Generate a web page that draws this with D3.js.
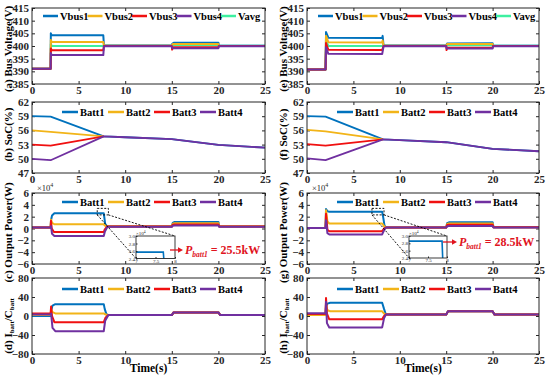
<!DOCTYPE html>
<html><head><meta charset="utf-8">
<script src="https://cdn.jsdelivr.net/npm/d3@7"></script>
<style>body{margin:0;background:#fff}svg{display:block}</style>
</head><body>
<svg id="c" width="550" height="378"></svg>
<script>
// ---------- data ----------
const timeTicks = [0,5,10,15,20,25];
const vTicks = [385,390,395,400,405,410,415];
const socTicks = [47,50,53,56,59,62];
const powTicks = [-6,-4,-2,0,2,4,6];
const iTicks = [-80,-40,0,40,80];
const vLabels = ["Vbus1","Vbus2","Vbus3","Vbus4","Vavg"];
const bLabels = ["Batt1","Batt2","Batt3","Batt4"];
const colors5 = ["#0072BD","#F2B418","#F01010","#7030A0","#3DF0A0"];

// (a) bus voltage, case 1
const a_v1 = [[0,391],[2,391],[2.02,405],[2.12,404.2],[7.65,404.2],[7.72,400.3],[15,400.2],[15.05,400.9],[15.2,401.3],[20,401.3],[20.05,400.1],[25,400.1]];
const a_v2 = [[0,391],[2,391],[2.02,402.4],[2.12,401.6],[7.65,401.6],[7.72,400.2],[15,400.1],[15.1,400.8],[20,400.8],[20.05,400],[25,400]];
const a_v3 = [[0,391],[2,391],[2.02,399],[2.12,398.3],[7.65,398.3],[7.72,400],[15,400],[15.03,398.6],[15.12,399.5],[20,399.5],[20.05,400],[25,400]];
const a_v4 = [[0,391],[2,391],[2.02,397.2],[2.12,396.4],[7.65,396.4],[7.72,399.9],[15,399.9],[15.05,399.1],[20,399.1],[20.05,399.9],[25,399.9]];
const a_va = [[0,391],[2,391],[2.02,400.8],[2.12,400],[7.65,400],[7.72,400.1],[15,400.1],[15.1,400.3],[20,400.3],[20.05,400.1],[25,400.1]];
// (e) bus voltage, case 2
const e_v1 = [[0,390.7],[2,390.7],[2.05,405.5],[2.3,403.3],[8.1,403.2],[8.15,404],[8.25,400.2],[15,400.2],[15.1,401],[20,401.1],[20.05,400.1],[25,400.1]];
const e_v2 = [[0,390.7],[2,390.7],[2.05,404],[2.3,401.5],[8.1,401.4],[8.15,402.2],[8.25,400.1],[15,400.1],[15.1,400.8],[20,400.8],[20.05,400],[25,400]];
const e_v3 = [[0,390.7],[2,390.7],[2.05,401.2],[2.3,398.5],[8.1,398.4],[8.25,400],[15,400],[15.04,398.4],[15.12,399.3],[20,399.3],[20.05,400],[25,400]];
const e_v4 = [[0,390.7],[2,390.7],[2.05,399.5],[2.3,396.9],[8.1,396.8],[8.25,399.9],[15,399.9],[15.05,399],[20,399],[20.05,399.9],[25,399.9]];
const e_va = [[0,390.7],[2,390.7],[2.05,402.2],[2.3,400],[8.1,400],[8.25,400.1],[15,400.1],[15.1,400.3],[20,400.3],[20.05,400.1],[25,400.1]];

// (b) SoC, case 1
const b_s1 = [[0,59],[2,58.9],[7.7,54.75],[10,54.55],[15,54.15],[20,52.95],[25,52.35]];
const b_s2 = [[0,56],[2,55.7],[7.7,54.75]];
const b_s3 = [[0,53],[2,52.8],[7.7,54.75]];
const b_s4 = [[0,50],[2,49.7],[7.7,54.75],[10,54.55],[15,54.15],[20,52.95],[25,52.35]];
// (f) SoC, case 2
const f_s1 = [[0,59],[2,58.9],[8.2,54.1],[10,53.95],[15,53.5],[20,52.1],[25,51.6]];
const f_s2 = [[0,56.1],[2,55.8],[8.2,54.1]];
const f_s3 = [[0,53.1],[2,52.8],[8.2,54.1]];
const f_s4 = [[0,50.1],[2,49.7],[8.2,54.1],[10,53.95],[15,53.5],[20,52.1],[25,51.6]];

// (c) output power (x1e4 W), case 1
const c_p1 = [[0,0.15],[2,0.15],[2.04,1.4],[2.15,2.2],[2.4,2.57],[7.7,2.57],[7.75,2.0],[7.85,0.8],[8.05,0.35],[15,0.35],[15.1,0.95],[15.3,1.1],[20,1.1],[20.1,0.35],[25,0.35]];
const c_p2 = [[0,0.15],[2,0.15],[2.04,1.5],[2.15,0.95],[2.4,0.72],[7.7,0.72],[7.8,0.5],[8.05,0.38],[15,0.38],[15.1,0.8],[15.3,0.88],[20,0.88],[20.1,0.38],[25,0.38]];
const c_p3 = [[0,0.15],[2,0.15],[2.04,1.3],[2.12,0],[2.35,-0.6],[7.7,-0.6],[7.8,-0.2],[8.05,0.32],[15,0.32],[15.1,0.62],[15.3,0.68],[20,0.68],[20.1,0.32],[25,0.32]];
const c_p4 = [[0,0.15],[2,0.15],[2.04,0.4],[2.15,-0.9],[2.4,-1.25],[7.7,-1.25],[7.82,-0.5],[8.1,0.28],[15,0.28],[15.1,0.45],[15.3,0.5],[20,0.5],[20.1,0.28],[25,0.28]];
const c_inset = [[7,2.57],[7.7,2.57],[7.72,2.3]];
// (g) output power (x1e4 W), case 2
const g_p1 = [[0,0.1],[2,0.1],[2.05,3.3],[2.2,2.9],[2.4,2.85],[8.1,2.85],[8.2,2.0],[8.35,0.5],[8.5,0.18],[15,0.18],[15.1,0.9],[15.3,1.05],[20,1.05],[20.1,0.22],[25,0.22]];
const g_p2 = [[0,0.1],[2,0.1],[2.05,3.1],[2.2,1.2],[2.4,0.85],[8.1,0.85],[8.3,0.4],[8.5,0.18],[15,0.18],[15.1,0.78],[15.3,0.85],[20,0.85],[20.1,0.22],[25,0.22]];
const g_p3 = [[0,0.1],[2,0.1],[2.05,2.5],[2.2,-0.2],[2.4,-0.45],[8.1,-0.45],[8.3,0],[8.5,0.16],[15,0.16],[15.1,0.6],[15.3,0.65],[20,0.65],[20.1,0.2],[25,0.2]];
const g_p4 = [[0,0.1],[2,0.1],[2.05,1.4],[2.2,-0.8],[2.4,-1.0],[8.1,-1.0],[8.3,-0.3],[8.5,0.15],[15,0.15],[15.1,0.38],[15.3,0.42],[20,0.42],[20.1,0.18],[25,0.18]];
const g_inset = [[7,2.86],[7.87,2.86],[7.89,2.3]];

// (d) Ibatt/Cbatt, case 1
const d_i1 = [[0,0],[2,0],[2.05,10],[2.2,22],[2.5,25],[7.7,25],[7.8,15],[8.0,3],[8.2,2],[15,2],[15.2,7.5],[20,7.5],[20.2,2],[25,2]];
const d_i2 = [[0,2],[2,2],[2.05,14],[2.2,8],[2.5,5.5],[7.7,5.5],[7.9,3],[8.2,2],[15,2],[15.2,7.5],[20,7.5],[20.2,2],[25,2]];
const d_i3 = [[0,5.5],[2,5.5],[2.05,20],[2.15,0],[2.4,-13],[7.7,-13],[7.9,-3],[8.2,2],[15,2],[15.2,7.5],[20,7.5],[20.2,2],[25,2]];
const d_i4 = [[0,3],[2,3],[2.05,5],[2.2,-25],[2.5,-32],[7.7,-32],[7.85,-10],[8.2,2],[15,2],[15.2,7.5],[20,7.5],[20.2,2],[25,2]];
// (h) Ibatt/Cbatt, case 2
const h_i1 = [[0,2],[2,2],[2.05,20],[2.2,26],[2.5,28],[8.1,28],[8.3,15],[8.5,3],[15,3],[15.2,10],[20,10],[20.2,3],[25,3]];
const h_i2 = [[0,2],[2,2],[2.05,25],[2.2,12],[2.5,10],[8.1,10],[8.3,5],[8.5,3],[15,3],[15.2,10],[20,10],[20.2,3],[25,3]];
const h_i3 = [[0,4],[2,4],[2.05,38],[2.15,5],[2.4,-7],[8.1,-7],[8.3,0],[8.5,3],[15,3],[15.2,10],[20,10],[20.2,3],[25,3]];
const h_i4 = [[0,6],[2,6],[2.05,30],[2.15,-15],[2.4,-24],[8.1,-24],[8.3,-5],[8.5,3],[15,3],[15.2,10],[20,10],[20.2,3],[25,3]];

// ---------- drawing ----------
const svg = d3.select("#c");
const FONT = "'Liberation Serif','Times New Roman',serif";
const AX = "#262626";
const cols = [[32,265],[307,539]];
const rows = [[8,84],[102,173],[193,264],[278,354]];

let clipId = 0;
function panel(cfg){
  const [L,R] = cols[cfg.col], [T,B] = rows[cfg.row];
  const x = d3.scaleLinear().domain([0,25]).range([L,R]);
  const y = d3.scaleLinear().domain(cfg.yDom).range([B,T]);
  const g = svg.append("g");
  const id = "clip"+(clipId++);
  g.append("clipPath").attr("id",id).append("rect").attr("x",L).attr("y",T).attr("width",R-L).attr("height",B-T);
  const axStyle = sel => { sel.selectAll("path.domain").remove();
    sel.selectAll("line").attr("stroke",AX);
    sel.selectAll("text").attr("font-family",FONT).attr("font-weight","bold").attr("font-size",11).attr("fill",AX); };
  g.append("g").attr("transform",`translate(0,${B})`).call(d3.axisBottom(x).tickValues(timeTicks).tickSize(-3).tickPadding(2).tickFormat(d3.format("d"))).call(axStyle);
  g.append("g").attr("transform",`translate(0,${T})`).call(d3.axisTop(x).tickValues(timeTicks).tickSize(-3).tickFormat("")).call(axStyle);
  g.append("g").attr("transform",`translate(${L},0)`).call(d3.axisLeft(y).tickValues(cfg.yTicks).tickSize(-3).tickPadding(3).tickFormat(d3.format("d"))).call(axStyle);
  g.append("g").attr("transform",`translate(${R},0)`).call(d3.axisRight(y).tickValues(cfg.yTicks).tickSize(-3).tickFormat("")).call(axStyle);
  const line = d3.line().x(d=>x(d[0])).y(d=>y(d[1]));
  const lg = g.append("g").attr("clip-path",`url(#${id})`);
  cfg.series.forEach(s=>{
    lg.append("path").attr("d",line(s.data)).attr("fill","none").attr("stroke",s.color)
      .attr("stroke-width",cfg.lw||2).attr("stroke-linejoin","round");
  });
  g.append("rect").attr("x",L).attr("y",T).attr("width",R-L).attr("height",B-T)
    .attr("fill","none").attr("stroke",AX).attr("stroke-width",1);
  if(cfg.legend){
    const lgd = cfg.legend;
    lgd.labels.forEach((t,i)=>{
      const lx = L + lgd.x0 + i*lgd.dx, ly = T + lgd.y;
      g.append("line").attr("x1",lx).attr("x2",lx+lgd.len).attr("y1",ly).attr("y2",ly)
        .attr("stroke",lgd.colors[i]).attr("stroke-width",2.5);
      g.append("text").attr("x",lx+lgd.len+2).attr("y",ly+3.6).text(t)
        .attr("font-family",FONT).attr("font-weight","bold").attr("font-size",10.5).attr("fill","#000");
    });
  }
  if(cfg.ylabel){
    const cx = cfg.col===0?12:287, cy = (T+B)/2 + (cfg.lblOff||0);
    const t = svg.append("text").attr("transform",`translate(${cx},${cy}) rotate(-90)`)
      .attr("text-anchor","middle").attr("font-family",FONT).attr("font-weight","bold").attr("font-size",11).attr("fill","#000");
    cfg.ylabel.forEach(p=>{
      const ts = t.append("tspan").text(p.t);
      if(p.sub) ts.attr("font-size",7).attr("dy",2); else if(p.back) ts.attr("dy",-2);
    });
  }
  return {x,y,g,L,R,T,B};
}

const battColors = colors5.slice(0,4);
const vLegend = {labels:vLabels, colors:colors5, x0:11, dx:44.5, len:15, y:8};
const bLegend = (yy)=>({labels:bLabels, colors:battColors, x0:30, dx:46, len:16, y:yy});
const mk = (arrs,cl)=>arrs.map((d,i)=>({data:d,color:cl[i]}));

const volOrder = (v1,v2,v3,v4,va)=>[{data:va,color:colors5[4]},{data:v1,color:colors5[0]},{data:v2,color:colors5[1]},{data:v3,color:colors5[2]},{data:v4,color:colors5[3]}];
panel({col:0,row:0,yDom:[385,415],yTicks:vTicks,series:volOrder(a_v1,a_v2,a_v3,a_v4,a_va),legend:vLegend,
  ylabel:[{t:"(a) Bus Voltage(V)"}],lblOff:3});
panel({col:1,row:0,yDom:[385,415],yTicks:vTicks,series:volOrder(e_v1,e_v2,e_v3,e_v4,e_va),legend:vLegend,
  ylabel:[{t:"(e) Bus Voltage(V)"}],lblOff:3});
panel({col:0,row:1,yDom:[47,62],yTicks:socTicks,series:mk([b_s1,b_s2,b_s3,b_s4],battColors),lw:1.8,legend:bLegend(10),
  ylabel:[{t:"(b) SoC(%)"}],lblOff:-3});
panel({col:1,row:1,yDom:[47,62],yTicks:socTicks,series:mk([f_s1,f_s2,f_s3,f_s4],battColors),lw:1.8,legend:bLegend(10),
  ylabel:[{t:"(f) SoC(%)"}],lblOff:-3});
const pc = panel({col:0,row:2,yDom:[-6,6],yTicks:powTicks,series:mk([c_p1,c_p2,c_p3,c_p4],battColors),legend:bLegend(9),
  ylabel:[{t:"(c) Output Power(W)"}],lblOff:4});
const pg = panel({col:1,row:2,yDom:[-6,6],yTicks:powTicks,series:mk([g_p1,g_p2,g_p3,g_p4],battColors),legend:bLegend(9),
  ylabel:[{t:"(g) Output Power(W)"}],lblOff:4});
const iLabel = (l)=>[{t:l+" I"},{t:"batt",sub:true},{t:"/C",back:true},{t:"batt",sub:true}];
panel({col:0,row:3,yDom:[-80,80],yTicks:iTicks,series:mk([d_i1,d_i2,d_i3,d_i4],battColors),legend:bLegend(11),
  ylabel:iLabel("(d)"),lblOff:10});
panel({col:1,row:3,yDom:[-80,80],yTicks:iTicks,series:mk([h_i1,h_i2,h_i3,h_i4],battColors),legend:bLegend(11),
  ylabel:iLabel("(h)"),lblOff:10});

// x-axis titles
[148.5,423].forEach(cx=>{
  svg.append("text").attr("x",cx).attr("y",372).attr("text-anchor","middle").text("Time(s)")
    .attr("font-family",FONT).attr("font-weight","bold").attr("font-size",11.5).attr("fill","#000");
});

// x10^4 exponent labels
function expLabel(x,y,fs){
  const t = svg.append("text").attr("x",x).attr("y",y).attr("font-family",FONT).attr("font-size",fs).attr("fill",AX);
  t.append("tspan").text("×10");
  t.append("tspan").text("4").attr("font-size",fs*0.7).attr("dy",-fs*0.4);
}
expLabel(37,190.5,8.5);
expLabel(312,190.5,8.5);

// zoom boxes, connectors, insets, annotations
function zoomInset(p, rectX, rectY, box, insetData, ann, annY){
  const rx0=p.x(rectX[0]), rx1=p.x(rectX[1]), ry0=p.y(rectY[1]), ry1=p.y(rectY[0]);
  svg.append("rect").attr("x",rx0).attr("y",ry0).attr("width",rx1-rx0).attr("height",ry1-ry0)
    .attr("fill","none").attr("stroke","#000").attr("stroke-width",0.9).attr("stroke-dasharray","2,1.5");
  svg.append("line").attr("x1",rx0).attr("y1",ry1).attr("x2",box[0]).attr("y2",box[3])
    .attr("stroke","#000").attr("stroke-width",0.9).attr("stroke-dasharray","2,1.5");
  svg.append("line").attr("x1",rx1).attr("y1",ry1).attr("x2",box[1]).attr("y2",box[2])
    .attr("stroke","#000").attr("stroke-width",0.9).attr("stroke-dasharray","2,1.5");
  const ix = d3.scaleLinear().domain([7,8]).range([box[0],box[1]]);
  const iy = d3.scaleLinear().domain([2.4,3.0]).range([box[3],box[2]]);
  const g = svg.append("g");
  g.append("rect").attr("x",box[0]).attr("y",box[2]).attr("width",box[1]-box[0]).attr("height",box[3]-box[2]).attr("fill","#fff");
  const cid = "clip"+(clipId++);
  g.append("clipPath").attr("id",cid).append("rect").attr("x",box[0]).attr("y",box[2]).attr("width",box[1]-box[0]).attr("height",box[3]-box[2]);
  g.append("path").attr("clip-path",`url(#${cid})`).attr("d",d3.line().x(d=>ix(d[0])).y(d=>iy(d[1]))(insetData))
    .attr("fill","none").attr("stroke",colors5[0]).attr("stroke-width",1.6);
  const st = sel=>{sel.selectAll("path.domain").remove(); sel.selectAll("line").attr("stroke",AX);
    sel.selectAll("text").attr("font-family",FONT).attr("font-size",5).attr("fill",AX);};
  g.append("g").attr("transform",`translate(0,${box[3]})`).call(d3.axisBottom(ix).tickValues([7,7.5,8]).tickSize(-1.5).tickPadding(0.5).tickFormat(d3.format("~g"))).call(st);
  g.append("g").attr("transform",`translate(${box[0]},0)`).call(d3.axisLeft(iy).tickValues([2.4,2.6,2.8,3.0]).tickSize(-1.5).tickPadding(1).tickFormat(d3.format(".1f"))).call(st);
  g.append("rect").attr("x",box[0]).attr("y",box[2]).attr("width",box[1]-box[0]).attr("height",box[3]-box[2])
    .attr("fill","none").attr("stroke",AX).attr("stroke-width",0.9);
  const t = g.append("text").attr("x",box[0]).attr("y",box[2]-1).attr("font-family",FONT).attr("font-size",5).attr("fill",AX);
  t.append("tspan").text("×10"); t.append("tspan").text("4").attr("font-size",3.5).attr("dy",-2);
  const red = "#E0141E";
  const ax0 = ann[0], ax1 = ann[1];
  svg.append("line").attr("x1",ax0).attr("x2",ax1-3).attr("y1",annY).attr("y2",annY).attr("stroke",red).attr("stroke-width",1.3);
  svg.append("path").attr("d",`M${ax1},${annY} L${ax1-5},${annY-2.8} L${ax1-5},${annY+2.8} Z`).attr("fill",red);
  const at = svg.append("text").attr("x",ax1+2).attr("y",annY+4).attr("font-family",FONT).attr("font-weight","bold").attr("font-size",12).attr("fill",red);
  at.append("tspan").text("P").attr("font-style","italic");
  at.append("tspan").text("batt1").attr("font-style","italic").attr("font-size",7.5).attr("dy",2.5);
  at.append("tspan").text(" = "+ann[2]).attr("dy",-2.5);
}
zoomInset(pc,[7,8.2],[2.3,3.4],[136,175,236,258.5],c_inset,[170,183,"25.5kW"],250);
zoomInset(pg,[7,8.3],[2.3,3.4],[409,447,236,258],g_inset,[443,457,"28.5kW"],242);
</script>
</body></html>
